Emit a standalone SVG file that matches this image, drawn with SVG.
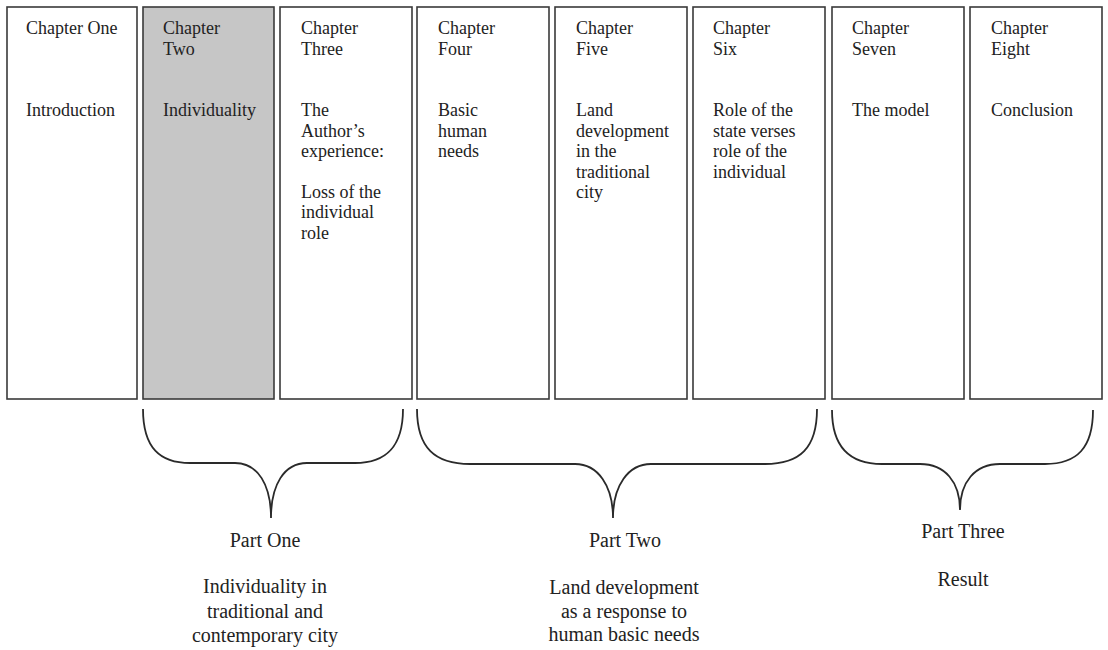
<svg xmlns="http://www.w3.org/2000/svg" width="1108" height="650" viewBox="0 0 1108 650">
<style>
.box{fill:#fff;stroke:#3a3a3a;stroke-width:1.6}
.shade{fill:#c6c6c6}
.t{font-family:"Liberation Serif","Times New Roman",serif;font-size:18px;fill:#222}
.l{font-family:"Liberation Serif","Times New Roman",serif;font-size:20px;fill:#222;text-anchor:middle}
.brace{fill:none;stroke:#2a2a2a;stroke-width:1.8}
</style>
<rect width="1108" height="650" fill="#fff"/>
<g id="ch1"><rect class="box" x="7" y="7" width="130" height="392"/>
<text class="t" x="26" y="34">Chapter One</text>
<text class="t" x="26" y="116">Introduction</text></g>
<g id="ch2"><rect class="box shade" x="143" y="7" width="131" height="392"/>
<text class="t" x="163" y="34">Chapter</text><text class="t" x="163" y="54.5">Two</text>
<text class="t" x="163" y="116">Individuality</text></g>
<g id="ch3"><rect class="box" x="280" y="7" width="132" height="392"/>
<text class="t" x="301" y="34">Chapter</text><text class="t" x="301" y="54.5">Three</text>
<text class="t" x="301" y="116">The</text><text class="t" x="301" y="136.5">Author’s</text><text class="t" x="301" y="157">experience:</text>
<text class="t" x="301" y="197.5">Loss of the</text><text class="t" x="301" y="218">individual</text><text class="t" x="301" y="238.5">role</text></g>
<g id="ch4"><rect class="box" x="417" y="7" width="132" height="392"/>
<text class="t" x="438" y="34">Chapter</text><text class="t" x="438" y="54.5">Four</text>
<text class="t" x="438" y="116">Basic</text><text class="t" x="438" y="136.5">human</text><text class="t" x="438" y="157">needs</text></g>
<g id="ch5"><rect class="box" x="555" y="7" width="132" height="392"/>
<text class="t" x="576" y="34">Chapter</text><text class="t" x="576" y="54.5">Five</text>
<text class="t" x="576" y="116">Land</text><text class="t" x="576" y="136.5">development</text><text class="t" x="576" y="157">in the</text><text class="t" x="576" y="177.5">traditional</text><text class="t" x="576" y="198">city</text></g>
<g id="ch6"><rect class="box" x="693" y="7" width="132" height="392"/>
<text class="t" x="713" y="34">Chapter</text><text class="t" x="713" y="54.5">Six</text>
<text class="t" x="713" y="116">Role of the</text><text class="t" x="713" y="136.5">state verses</text><text class="t" x="713" y="157">role of the</text><text class="t" x="713" y="177.5">individual</text></g>
<g id="ch7"><rect class="box" x="832" y="7" width="132" height="392"/>
<text class="t" x="852" y="34">Chapter</text><text class="t" x="852" y="54.5">Seven</text>
<text class="t" x="852" y="116">The model</text></g>
<g id="ch8"><rect class="box" x="970" y="7" width="132" height="392"/>
<text class="t" x="991" y="34">Chapter</text><text class="t" x="991" y="54.5">Eight</text>
<text class="t" x="991" y="116">Conclusion</text></g>
<g id="connectors">
<path class="brace" d="M143,409 C143,448 160,463 190,463 L235,463 C258,463 271,485 271,518 C271,485 284,463 307,463 L355,463 C385,463 403,448 403,409"/>
<path class="brace" d="M417,409 C417,448 435,464 470,464 L575,464 C598,464 613,486 613,518 C613,486 628,464 651,464 L765,464 C800,464 817,448 817,409"/>
<path class="brace" d="M832,410 C832,448 850,464 882,464 L920,464 C945,464 960,482 960,510 C960,482 975,464 1000,464 L1045,464 C1077,464 1093,448 1093,410"/>
</g>
<g id="part1"><text class="l" x="265" y="547">Part One</text>
<text class="l" x="265" y="593">Individuality in</text><text class="l" x="265" y="618">traditional and</text><text class="l" x="265" y="642">contemporary city</text></g>
<g id="part2"><text class="l" x="625" y="547">Part Two</text>
<text class="l" x="624" y="594">Land development</text><text class="l" x="624" y="618">as a response to</text><text class="l" x="624" y="641">human basic needs</text></g>
<g id="part3"><text class="l" x="963" y="538">Part Three</text>
<text class="l" x="963" y="586">Result</text></g>
</svg>
